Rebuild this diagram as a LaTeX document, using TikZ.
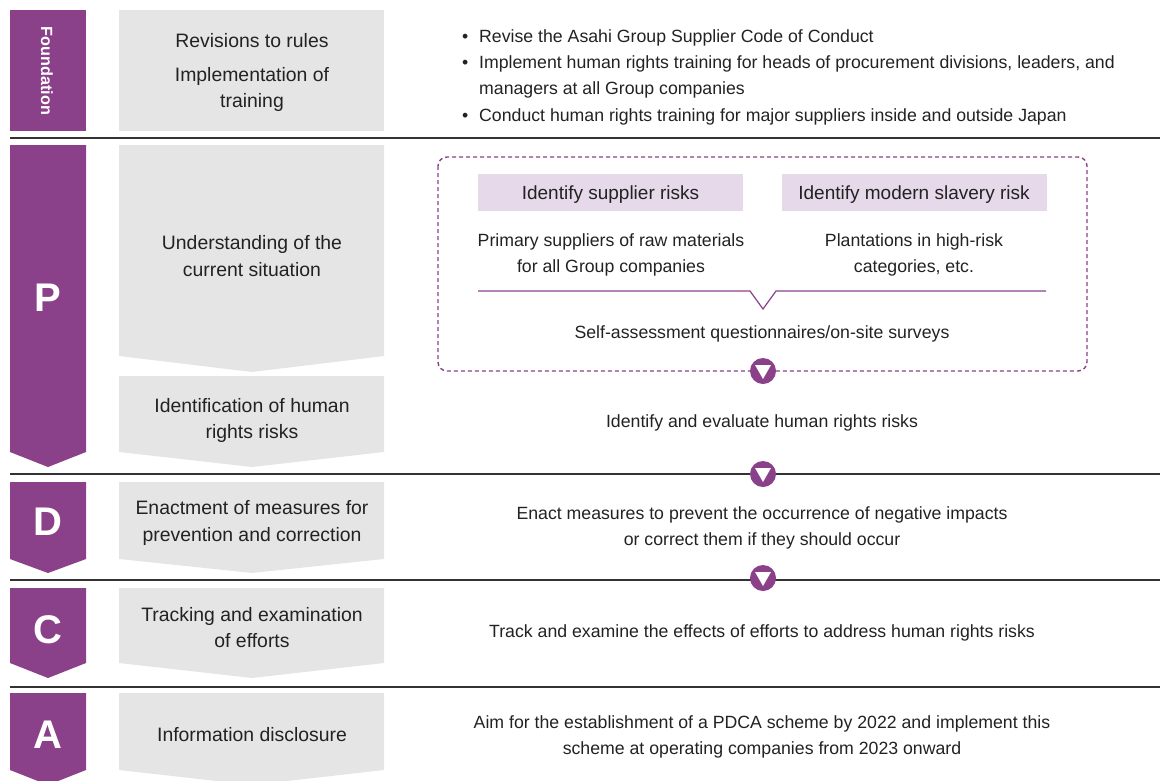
\documentclass[tikz,border=0pt]{standalone}
\usepackage{fontspec}
\setmainfont{Liberation Sans}
\usetikzlibrary{calc}
\definecolor{purp}{HTML}{8A4189}
\definecolor{lpurp}{HTML}{E6DAEA}
\definecolor{gbox}{HTML}{E5E5E5}
\definecolor{txt}{HTML}{222222}
\definecolor{sepc}{HTML}{333333}
\newcommand\graychev[3]{\fill[gbox] (119,#1) -- (384,#1) -- (384,#2) -- (252,#3) -- (119,#2) -- cycle;}
\newcommand\purpchev[3]{\fill[purp] (10,#1) -- (86,#1) -- (86,#2) -- (48,#3) -- (10,#2) -- cycle;}
\begin{document}
\begin{tikzpicture}[x=1pt,y=-1pt,
  body/.style={font=\fontsize{17.7}{26}\selectfont, text=txt, inner sep=0pt, anchor=base},
  left/.style={body, font=\fontsize{19.4}{26}\selectfont},
  boxt/.style={body, font=\fontsize{19}{26}\selectfont},
  bl/.style={body, anchor=base west},
  letter/.style={font=\fontsize{40}{40}\selectfont\bfseries, text=white, inner sep=0pt},
  sepline/.style={draw=sepc, line width=1.2pt},
  marker/.style={circle, fill=purp, minimum size=26pt, inner sep=0pt},
  lbox/.style={fill=lpurp, minimum width=265pt, minimum height=37pt, inner sep=0pt}]
\useasboundingbox (0,0) rectangle (1160,780);
\clip (0,0) rectangle (1160,780);
% separators
\draw[sepline] (10,138) -- (1160,138);
\draw[sepline] (10,474) -- (1160,474);
\draw[sepline] (10,580) -- (1160,580);
\draw[sepline] (10,687) -- (1160,687);
% purple bars
\fill[purp] (10,10) rectangle (86,131);
\purpchev{145}{452}{467}
\purpchev{482}{559}{573}
\purpchev{588}{663}{678}
\purpchev{693}{770}{785}
\node[font=\fontsize{16.2}{16}\selectfont\bfseries, text=white, rotate=-90, inner sep=0pt] (fnd) at (47,71) {Foundation};
\node[letter] (lP) at (48,298) {P};
\node[letter] (lD) at (48,522) {D};
\node[letter] (lC) at (48,630) {C};
\node[letter] (lA) at (48,735) {A};
% gray boxes
\fill[gbox] (119,10) rectangle (384,131);
\graychev{145}{356}{372}
\graychev{376}{452}{467}
\graychev{482}{559}{573}
\graychev{588}{663}{678}
\graychev{693}{770}{785}
\node[left] (g1a) at (252,47) {Revisions to rules};
\node[left] (g1b) at (252,81) {Implementation of};
\node[left] (g1c) at (252,107) {training};
\node[left] (g2a) at (252,249) {Understanding of the};
\node[left] (g2b) at (252,276) {current situation};
\node[left] (g3a) at (252,412) {Identification of human};
\node[left] (g3b) at (252,438) {rights risks};
\node[left] (g4a) at (252,514) {Enactment of measures for};
\node[left] (g4b) at (252,541) {prevention and correction};
\node[left] (g5a) at (252,621) {Tracking and examination};
\node[left] (g5b) at (252,647) {of efforts};
\node[left] (g6a) at (252,741) {Information disclosure};
% foundation bullets
\node[bl] (b1) at (462,42) {•};
\node[bl] (t1) at (479,42) {Revise the Asahi Group Supplier Code of Conduct};
\node[bl] (b2) at (462,68) {•};
\node[bl] (t2) at (479,68) {Implement human rights training for heads of procurement divisions, leaders, and};
\node[bl] (t2b) at (479,94) {managers at all Group companies};
\node[bl] (b3) at (462,121) {•};
\node[bl] (t3) at (479,121) {Conduct human rights training for major suppliers inside and outside Japan};
% dashed box
\draw[purp, line width=1.4pt, dash pattern=on 4pt off 3pt, rounded corners=9pt] (438,157) rectangle (1087,371);
\node[lbox] (s1) at (610.5,192.5) {};
\node[lbox] (s2) at (914,192.5) {};
\node[boxt] (s1t) at (610.5,199) {Identify supplier risks};
\node[boxt] (s2t) at (914,199) {Identify modern slavery risk};
\node[body] (s1a) at (611,246) {Primary suppliers of raw materials};
\node[body] (s1b) at (611,272) {for all Group companies};
\node[body] (s2a) at (914,246) {Plantations in high-risk};
\node[body] (s2b) at (914,272) {categories, etc.};
\coordinate (vl) at (478,291);
\coordinate (vr) at (1046,291);
\coordinate (vtip) at (763,309);
\draw[purp, line width=1.2pt] (vl) -- (750,291) -- (vtip) -- (776,291) -- (vr);
\node[body] (sa) at (762,338) {Self-assessment questionnaires/on-site surveys};
% markers
\foreach \n/\y in {m1/371, m2/474, m3/578}{
  \node[marker] (\n) at (763,\y) {};
  \fill[white] ($(\n)+(-8,-6)$) -- ($(\n)+(8,-6)$) -- ($(\n)+(0,8)$) -- cycle;
}
% right texts
\node[body] (r1) at (762,427) {Identify and evaluate human rights risks};
\node[body] (r2a) at (762,519) {Enact measures to prevent the occurrence of negative impacts};
\node[body] (r2b) at (762,545) {or correct them if they should occur};
\node[body] (r3) at (762,637) {Track and examine the effects of efforts to address human rights risks};
\node[body] (r4a) at (762,728) {Aim for the establishment of a PDCA scheme by 2022 and implement this};
\node[body] (r4b) at (762,754) {scheme at operating companies from 2023 onward};
\end{tikzpicture}
\end{document}
